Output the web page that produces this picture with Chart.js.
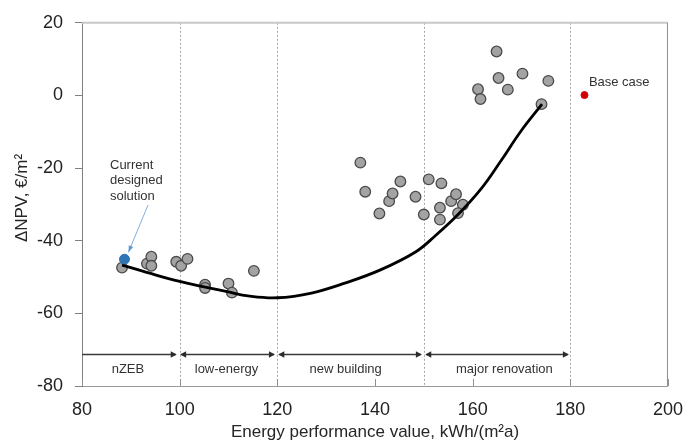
<!DOCTYPE html>
<html>
<head>
<meta charset="utf-8">
<script src="https://cdn.jsdelivr.net/npm/chart.js@4.4.0/dist/chart.umd.min.js"></script>
<style>
    html, body { margin: 0; padding: 0; background: #fff; }
    #wrap { width: 696px; height: 444px; position: relative; }
</style>
</head>
<body>
<div id="wrap"><canvas id="npvChart"></canvas></div>
<script>
    const xTicks = [80, 100, 120, 140, 160, 180, 200];
    const yTicks = [-80, -60, -40, -20, 0, 20];

    // variants (grey dots)
    const sampleX = [88.2, 93.3, 94.2, 94.2, 99.3, 100.3, 101.6, 105.2, 105.2, 110.0, 110.7, 115.2,
                     137.0, 138.0, 140.9, 142.9, 143.6, 145.2, 148.3, 150.0, 151.0, 153.6, 153.3, 153.3,
                     155.6, 156.6, 158.0, 157.0, 161.1, 161.6, 164.9, 165.3, 167.2, 170.2, 175.5, 174.1];
    const sampleY = [-47.4, -46.3, -44.4, -46.9, -45.8, -46.9, -45.0, -52.1, -53.0, -51.8, -54.3, -48.3,
                     -18.5, -26.5, -32.5, -29.1, -27.0, -23.7, -27.9, -32.8, -23.1, -24.2, -30.9, -34.2,
                     -29.1, -27.2, -30.1, -32.4, 1.7, -1.0, 12.1, 4.8, 1.6, 6.0, 4.0, -2.4];

    const currentX = [88.7];
    const currentY = [-45.1];
    const baseX = [182.9];
    const baseY = [0.1];

    // trend line
    const trendX = [88.2, 95, 100, 105, 110, 114, 120, 127, 134, 141, 148.3, 152.3, 157, 161.8, 165.8, 169.8, 174.2];
    const trendY = [-46.7, -49.4, -51.2, -52.7, -54.1, -55.2, -55.7, -54.4, -51.6, -48.1, -43.1, -38.7, -32.8, -25.6, -18.0, -10.0, -2.4];

    const zoneNames = ['nZEB', 'low-energy', 'new building', 'major renovation'];
    const zoneStart = [80, 100.3, 120.4, 150.5];
    const zoneEnd = [99.2, 119.3, 149.4, 179.5];
    const zoneLabelX = [89.4, 109.6, 134, 166.5];
    const zoneArrowY = -71.3;
    const zoneLabelY = -75.5;
    const limitLines = [100, 120, 150, 180];

    const toPoints = (xs, ys) => xs.map((x, i) => ({ x: x, y: ys[i] }));

    function arrowHead(c, x, y, dir, size, color) {
        c.fillStyle = color;
        c.beginPath();
        c.moveTo(x, y);
        c.lineTo(x - dir * size, y - size * 0.55);
        c.lineTo(x - dir * size, y + size * 0.55);
        c.closePath();
        c.fill();
    }

    const decorations = {
        id: 'decorations',
        beforeDatasetsDraw(chart) {
            const c = chart.ctx;
            const xs = chart.scales.x, ys = chart.scales.y;
            const top = ys.getPixelForValue(20), bottom = ys.getPixelForValue(-80);
            c.save();
            // dotted limit lines
            c.strokeStyle = '#a6a6a6';
            c.lineWidth = 1;
            c.setLineDash([2, 2]);
            limitLines.forEach(v => {
                const px = Math.round(xs.getPixelForValue(v)) + 0.5;
                c.beginPath(); c.moveTo(px, top); c.lineTo(px, bottom); c.stroke();
            });
            c.setLineDash([]);
            // frame top + right
            c.strokeStyle = '#c8c8c8';
            c.lineWidth = 2;
            c.beginPath(); c.moveTo(xs.left, top); c.lineTo(xs.right, top); c.stroke();
            c.strokeStyle = '#909090';
            c.lineWidth = 1;
            c.beginPath(); c.moveTo(xs.right - 0.5, top); c.lineTo(xs.right - 0.5, bottom); c.stroke();
            // inner x tick marks
            c.strokeStyle = '#909090';
            xTicks.forEach(v => {
                const px = Math.round(xs.getPixelForValue(v)) + 0.5;
                c.beginPath(); c.moveTo(px, bottom); c.lineTo(px, bottom - 7); c.stroke();
            });
            // zone arrows + labels
            const ay = Math.round(ys.getPixelForValue(zoneArrowY)) + 0.5;
            c.strokeStyle = '#3a3a3a';
            c.lineWidth = 1.5;
            c.font = '13px "Liberation Sans", Arial, sans-serif';
            c.textAlign = 'center';
            c.textBaseline = 'middle';
            zoneNames.forEach((name, i) => {
                const x1 = xs.getPixelForValue(zoneStart[i]);
                const x2 = xs.getPixelForValue(zoneEnd[i]);
                c.beginPath(); c.moveTo(x1, ay); c.lineTo(x2, ay); c.stroke();
                arrowHead(c, x2 + 1, ay, 1, 6, '#2b2b2b');
                if (i > 0) arrowHead(c, x1 - 1, ay, -1, 6, '#2b2b2b');
                c.fillStyle = '#333';
                c.fillText(name, xs.getPixelForValue(zoneLabelX[i]), ys.getPixelForValue(zoneLabelY));
            });
            c.restore();
        },
        afterDatasetsDraw(chart) {
            const c = chart.ctx;
            const xs = chart.scales.x, ys = chart.scales.y;
            c.save();
            c.font = '13px "Liberation Sans", Arial, sans-serif';
            c.fillStyle = '#333';
            c.textAlign = 'left';
            c.textBaseline = 'middle';
            ['Current', 'designed', 'solution'].forEach((t, i) => c.fillText(t, 110, 165 + i * 15.5));
            c.fillText('Base case', xs.getPixelForValue(183.8), ys.getPixelForValue(3.6));
            // pointer to current solution
            const tx = xs.getPixelForValue(currentX[0]) + 4, ty = ys.getPixelForValue(currentY[0]) - 7;
            c.strokeStyle = '#7fb0e0';
            c.lineWidth = 1;
            c.beginPath(); c.moveTo(148, 205); c.lineTo(tx, ty); c.stroke();
            const ang = Math.atan2(ty - 205, tx - 148);
            c.fillStyle = '#5b9bd5';
            c.beginPath();
            c.moveTo(tx, ty);
            c.lineTo(tx - 7 * Math.cos(ang - 0.35), ty - 7 * Math.sin(ang - 0.35));
            c.lineTo(tx - 7 * Math.cos(ang + 0.35), ty - 7 * Math.sin(ang + 0.35));
            c.closePath(); c.fill();
            // axis titles
            c.fillStyle = '#262626';
            c.font = '17px "Liberation Sans", Arial, sans-serif';
            c.textAlign = 'center';
            c.fillText('Energy performance value, kWh/(m²a)', (xs.left + xs.right) / 2, 432);
            c.translate(22, 198);
            c.rotate(-Math.PI / 2);
            c.fillText('ΔNPV, €/m²', 0, 0);
            c.restore();
        }
    };

    const ctx = document.getElementById('npvChart').getContext('2d');
    new Chart(ctx, {
        type: 'scatter',
        data: {
            datasets: [
                {
                    label: 'trend',
                    data: toPoints(trendX, trendY),
                    showLine: true,
                    borderColor: '#000',
                    borderWidth: 2.8,
                    pointRadius: 0,
                    tension: 0.4,
                    order: 0
                },
                {
                    label: 'current',
                    data: toPoints(currentX, currentY),
                    backgroundColor: '#2e75b6',
                    borderColor: '#2e75b6',
                    pointRadius: 5,
                    order: 1
                },
                {
                    label: 'base',
                    data: toPoints(baseX, baseY),
                    backgroundColor: '#d40000',
                    borderColor: '#d40000',
                    pointRadius: 3.5,
                    order: 1
                },
                {
                    label: 'variants',
                    data: toPoints(sampleX, sampleY),
                    backgroundColor: '#a3a3a3',
                    borderColor: '#4a4a4a',
                    borderWidth: 1.3,
                    pointRadius: 5.3,
                    order: 2
                }
            ]
        },
        options: {
            responsive: true,
            maintainAspectRatio: false,
            animation: false,
            layout: { padding: { top: 14, right: 20, left: 0, bottom: 0 } },
            plugins: {
                legend: { display: false },
                tooltip: { enabled: false }
            },
            scales: {
                x: {
                    type: 'linear', min: 80, max: 200,
                    afterBuildTicks: s => { s.ticks = xTicks.map(v => ({ value: v })); },
                    afterFit: s => { s.height = 58; },
                    grid: { display: false, drawTicks: false },
                    border: { display: true, color: '#9a9a9a', width: 1 },
                    ticks: { color: '#222', padding: 13, font: { size: 18, family: '"Liberation Sans", Arial, sans-serif' }, maxRotation: 0 }
                },
                y: {
                    type: 'linear', min: -80, max: 20,
                    afterBuildTicks: s => { s.ticks = yTicks.map(v => ({ value: v })); },
                    afterFit: s => { s.width = 82; },
                    grid: { display: true, drawOnChartArea: false, drawTicks: true, tickLength: 7, color: '#808080' },
                    border: { display: true, color: '#808080', width: 1 },
                    ticks: { color: '#222', padding: 12, font: { size: 18, family: '"Liberation Sans", Arial, sans-serif' } }
                }
            }
        },
        plugins: [decorations]
    });
</script>
</body>
</html>
